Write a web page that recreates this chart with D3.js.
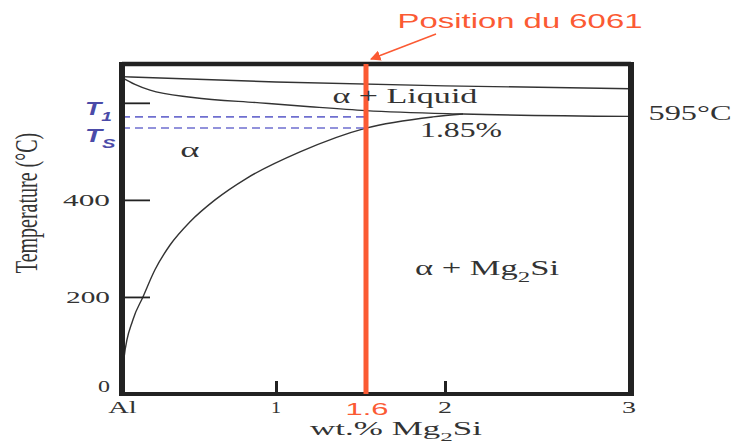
<!DOCTYPE html>
<html>
<head>
<meta charset="utf-8">
<script src="https://cdn.jsdelivr.net/npm/d3@7"></script>
<style>
  body { margin: 0; background: #fff; }
  svg { display: block; }
</style>
</head>
<body>
<svg id="chart"></svg>
<script>
// --- data (wt.% Mg2Si, temperature in °C) ---
const xTicks = [0, 1, 2, 3];
const xTickLabels = ['Al', '1', '2', '3'];
const yTicks = [200, 400, 600];
const yTickLabels = ['0', '200', '400'];
const yLabelValues = [0, 200, 400];

const liquidusTop = [[0, 654], [1, 643], [2, 635], [3, 629]];
const liquidusLow = [[0, 652], [0.084, 638], [0.182, 626], [0.461, 611], [0.896, 600],
                     [1.227, 592], [1.6, 584], [2.097, 577], [3, 572]];
const solvus = [[0.004, 40], [0.013, 74], [0.071, 153], [0.136, 200], [0.214, 256],
                [0.312, 307], [0.442, 355], [0.604, 400], [0.812, 445], [1.160, 499],
                [1.6, 548], [1.939, 571], [2.097, 577]];

const alloy = 1.6;     // position du 6061
const T1 = 571;
const Ts = 548;

const W = 734, H = 444;
const svg = d3.select('#chart').attr('width', W).attr('height', H);

// the picture's x axis is not evenly spaced, so the scale is piecewise
const x = d3.scaleLinear().domain([0, 1, 1.6, 2, 3]).range([122, 276, 366, 445, 631]);
const y = d3.scaleLinear().domain([0, 680]).range([394, 64]);

const ink = '#222';
const orange = '#fb5a33';
const blue = '#4b4ba8';
const serif = '"Liberation Serif", "Times New Roman", serif';
const sans = '"Liberation Sans", Arial, sans-serif';

// text stretched horizontally to the width it has in the picture
function addText(parts, o) {
  const t = svg.append('text')
    .attr('font-family', o.family || serif)
    .attr('font-size', o.size)
    .attr('fill', o.color || '#333')
    .attr('font-weight', o.weight || 'normal')
    .attr('font-style', o.style || 'normal')
    .attr('text-anchor', o.anchor || 'middle');
  let shifted = 0;
  parts.forEach(p => {
    const ts = t.append('tspan').text(p.t);
    if (p.sub) {
      const d = o.size * 0.32;
      ts.attr('font-size', o.size * 0.72).attr('dy', d - shifted);
      shifted = d;
    } else if (shifted) {
      ts.attr('dy', -shifted);
      shifted = 0;
    }
  });
  const bw = t.node().getBBox().width;
  const sx = o.width ? o.width / bw : 1;
  t.attr('transform', `translate(${o.x},${o.y}) scale(${sx},1)`);
  return t;
}

const line = d3.line().x(d => x(d[0])).y(d => y(d[1])).curve(d3.curveMonotoneX);

// phase boundaries
[liquidusTop, liquidusLow, solvus].forEach(s => {
  svg.append('path')
    .attr('d', line(s))
    .attr('fill', 'none')
    .attr('stroke', '#333')
    .attr('stroke-width', 1.4);
});

// T1 / Ts dashed lines up to the alloy line
[T1, Ts].forEach(t => {
  svg.append('line')
    .attr('x1', x(0)).attr('x2', x(alloy))
    .attr('y1', y(t)).attr('y2', y(t))
    .attr('stroke', '#6f6fcf')
    .attr('stroke-width', 1.6)
    .attr('stroke-dasharray', '8,5');
});

// y ticks (inside)
svg.append('g')
  .attr('transform', `translate(${x(0)},0)`)
  .call(d3.axisRight(y).tickValues(yTicks).tickSize(28).tickFormat(''))
  .call(g => g.select('.domain').remove())
  .call(g => g.selectAll('line').attr('stroke', ink).attr('stroke-width', 1.8));

// x ticks (inside)
svg.append('g')
  .attr('transform', `translate(0,${y(0)})`)
  .call(d3.axisTop(x).tickValues([1, 2]).tickSize(13).tickFormat(''))
  .call(g => g.select('.domain').remove())
  .call(g => g.selectAll('line').attr('stroke', ink).attr('stroke-width', 3));

// frame
const [x0, x1] = [x(0), x(3)];
const [yb, yt] = [y(0), y(680)];
svg.append('line').attr('x1', x0).attr('x2', x1).attr('y1', yt).attr('y2', yt).attr('stroke', ink).attr('stroke-width', 4.5);
svg.append('line').attr('x1', x0).attr('x2', x1).attr('y1', yb).attr('y2', yb).attr('stroke', ink).attr('stroke-width', 4);
svg.append('line').attr('x1', x0).attr('x2', x0).attr('y1', yt - 2).attr('y2', yb + 2).attr('stroke', ink).attr('stroke-width', 6);
svg.append('line').attr('x1', x1).attr('x2', x1).attr('y1', yt - 2).attr('y2', yb + 2).attr('stroke', ink).attr('stroke-width', 6);

// alloy line
svg.append('line')
  .attr('x1', x(alloy)).attr('x2', x(alloy))
  .attr('y1', yt).attr('y2', yb)
  .attr('stroke', orange)
  .attr('stroke-width', 5);

// tick labels
const yWidths = [12, 44, 47];
yLabelValues.forEach((v, i) => {
  addText([{t: yTickLabels[i]}], {x: 110, y: y(v) + (v === 0 ? -2 : 6), size: 17, anchor: 'end', width: yWidths[i]});
});
const xWidths = [29, 10, 14, 14];
xTicks.forEach((v, i) => {
  addText([{t: xTickLabels[i]}], {x: x(v) + (i === 0 ? 0.5 : (i === 3 ? -2 : 0)), y: 413, size: 17, width: xWidths[i]});
});
addText([{t: '1.6'}], {x: x(alloy) + 1, y: 415, size: 17, family: sans, color: orange, width: 43});

// axis titles
addText([{t: 'wt.% Mg'}, {t: '2', sub: true}, {t: 'Si'}], {x: 396, y: 435, size: 18, width: 172});
svg.append('text')
  .attr('transform', `translate(37,203) rotate(-90) scale(1,1.6)`)
  .attr('text-anchor', 'middle')
  .attr('font-family', serif)
  .attr('font-size', 20)
  .attr('fill', '#333')
  .text('Temperature (°C)');

// region labels
addText([{t: 'α + Liquid'}], {x: x(1.797), y: y(600), size: 20, width: 145});
addText([{t: '595°C'}], {x: x(3) + 59, y: y(572) + 4, size: 20, width: 83});
addText([{t: '1.85%'}], {x: x(2.086), y: y(530), size: 20, width: 82});
addText([{t: 'α'}], {x: x(0.44), y: y(489), size: 22, width: 20});
addText([{t: 'α + Mg'}, {t: '2', sub: true}, {t: 'Si'}], {x: x(2.226), y: y(245), size: 20, width: 145});

// T1 / Ts labels
addText([{t: 'T'}, {t: '1', sub: true}], {x: 85, y: y(T1) - 2, size: 18, family: sans, weight: 'bold', style: 'italic', color: blue, anchor: 'start', width: 27});
addText([{t: 'T'}, {t: 'S', sub: true}], {x: 85, y: y(Ts) + 14, size: 18, family: sans, weight: 'bold', style: 'italic', color: blue, anchor: 'start', width: 31});

// callout
addText([{t: 'Position du 6061'}], {x: 520, y: 28, size: 21, family: sans, color: orange, width: 245});
svg.append('defs').append('marker')
  .attr('id', 'head')
  .attr('viewBox', '0 0 10 10')
  .attr('refX', 9).attr('refY', 5)
  .attr('markerWidth', 7).attr('markerHeight', 7)
  .attr('orient', 'auto')
  .append('path').attr('d', 'M0,0 L10,5 L0,10 z').attr('fill', orange);
svg.append('line')
  .attr('x1', 436).attr('y1', 34)
  .attr('x2', x(alloy) + 5).attr('y2', 59)
  .attr('stroke', orange)
  .attr('stroke-width', 1.5)
  .attr('marker-end', 'url(#head)');
</script>
</body>
</html>
